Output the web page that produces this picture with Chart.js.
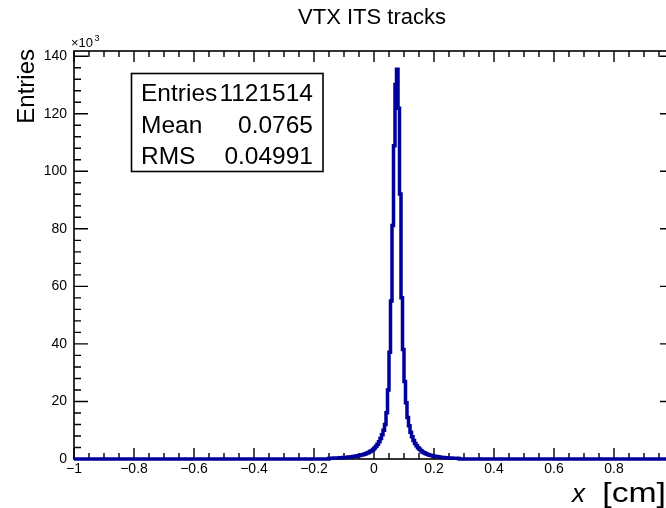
<!DOCTYPE html>
<html>
<head>
<meta charset="utf-8">
<title>VTX ITS tracks</title>
<script src="https://cdn.jsdelivr.net/npm/chart.js@4.4.1/dist/chart.umd.min.js"></script>
<style>
  html, body { margin: 0; padding: 0; background: #fff; overflow: hidden; }
  canvas { display: block; }
</style>
</head>
<body>
<canvas id="hist" width="680" height="508"></canvas>
<script>
// x of reconstructed ITS vertex tracks, 400 bins on [-1, 1]
// only the filled bins are listed, everything else is empty
const xMin = -1;
const xMax = 1;
const binWidth = 0.005;
const firstBinLow = -0.15;
const binCounts = [
  247, 268, 291, 309, 334, 352, 381, 409, 442, 478,
  519, 563, 608, 661, 724, 788, 862, 941, 1032, 1127,
  1243, 1362, 1498, 1652, 1847, 2054, 2301, 2597, 2903, 3296,
  3804, 4392, 5107, 6012, 7093, 8415, 10026, 11984, 16037, 23962,
  37104, 54871, 81123, 108846, 130117, 135472, 121906, 92134, 56018, 38077,
  26931, 19544, 14462, 11528, 9287, 7714, 6393, 5411, 4587, 3912,
  3347, 2852, 2446, 2153, 1897, 1682, 1503, 1327, 1184, 1049,
  942, 838, 751, 668, 603, 537, 492, 441, 398, 372,
  338, 312, 289, 268, 251, 229, 212
];

const xLabelTicks = [-1, -0.8, -0.6, -0.4, -0.2, 0, 0.2, 0.4, 0.6, 0.8, 1];
const xMinorStep = 0.05;
const yLabelTicks = [0, 20000, 40000, 60000, 80000, 100000, 120000, 140000];
const yMinorStep = 4000;
const yMax = 141800;

const statNames = ['Entries', 'Mean', 'RMS'];
const statValues = ['1121514', '0.0765', '0.04991'];

const FONT = '"Liberation Sans", Arial, Helvetica, sans-serif';
const lineBlue = '#00009c';

// step outline of the histogram, drawn along zero outside the filled range
const stepPoints = [{ x: xMin, y: 0 }, { x: firstBinLow, y: 0 }];
binCounts.forEach((c, i) => {
  const lo = firstBinLow + i * binWidth;
  stepPoints.push({ x: lo, y: c }, { x: lo + binWidth, y: c });
});
stepPoints.push({ x: firstBinLow + binCounts.length * binWidth, y: 0 }, { x: xMax, y: 0 });

const minus = s => s.replace('-', '\u2212');

// frame with ROOT style inward ticks on all four sides
const framePlugin = {
  id: 'frame',
  beforeDatasetsDraw(chart) {
    const { ctx, chartArea: a, scales: { x, y } } = chart;
    ctx.save();
    ctx.strokeStyle = '#000';
    ctx.lineWidth = 1.6;
    ctx.strokeRect(a.left, a.top, a.right - a.left, a.bottom - a.top);
    ctx.lineWidth = 1.4;
    ctx.beginPath();
    const nx = Math.round((xMax - xMin) / xMinorStep);
    for (let i = 0; i <= nx; i++) {
      const px = x.getPixelForValue(xMin + i * xMinorStep);
      const len = i % 4 === 0 ? 11 : 6;
      ctx.moveTo(px, a.bottom); ctx.lineTo(px, a.bottom - len);
      ctx.moveTo(px, a.top); ctx.lineTo(px, a.top + len);
    }
    for (let v = 0; v <= yMax; v += yMinorStep) {
      const py = y.getPixelForValue(v);
      const len = v % 20000 === 0 ? 14 : 7;
      ctx.moveTo(a.left, py); ctx.lineTo(a.left + len, py);
      ctx.moveTo(a.right, py); ctx.lineTo(a.right - len, py);
    }
    ctx.stroke();
    ctx.restore();
  },
  afterDraw(chart) {
    const { ctx } = chart;
    ctx.save();
    ctx.fillStyle = '#000';

    // title
    ctx.font = `22px ${FONT}`;
    ctx.textAlign = 'center';
    ctx.textBaseline = 'alphabetic';
    ctx.fillText('VTX ITS tracks', 372, 24);

    // y axis title, aligned to the top of the axis
    ctx.save();
    ctx.translate(34, 49);
    ctx.rotate(-Math.PI / 2);
    ctx.font = `24px ${FONT}`;
    ctx.textAlign = 'right';
    ctx.fillText('Entries', 0, 0);
    ctx.restore();

    // axis multiplier
    ctx.textAlign = 'left';
    ctx.font = `13px ${FONT}`;
    ctx.fillText('\u00d710', 71, 47);
    ctx.font = `9px ${FONT}`;
    ctx.fillText('3', 94.5, 41);

    // x axis title: italic x, then the unit, which comes out wide
    ctx.textAlign = 'right';
    ctx.save();
    ctx.translate(666, 502);
    ctx.scale(1.25, 1);
    ctx.font = `27px ${FONT}`;
    ctx.fillText('[cm]', 0, 0);
    ctx.restore();
    ctx.font = `italic 26px ${FONT}`;
    ctx.fillText('x', 585, 502);

    // statistics box
    const bx = 131.5, by = 73.5, bw = 191.5, bh = 98;
    ctx.fillStyle = '#fff';
    ctx.fillRect(bx, by, bw, bh);
    ctx.strokeStyle = '#000';
    ctx.lineWidth = 1.6;
    ctx.strokeRect(bx, by, bw, bh);
    ctx.fillStyle = '#000';
    ctx.font = `24.5px ${FONT}`;
    const rows = [100.5, 133, 164];
    statNames.forEach((name, i) => {
      ctx.textAlign = 'left';
      ctx.fillText(name, 141, rows[i]);
      ctx.textAlign = 'right';
      ctx.fillText(statValues[i], 313, rows[i]);
    });
    ctx.restore();
  }
};

new Chart(document.getElementById('hist'), {
  type: 'scatter',
  data: {
    datasets: [{
      data: stepPoints,
      showLine: true,
      borderColor: lineBlue,
      borderWidth: 3.5,
      borderJoinStyle: 'miter',
      pointRadius: 0,
      tension: 0,
      clip: 4
    }]
  },
  options: {
    responsive: false,
    animation: false,
    layout: { padding: { top: 51, right: 6, left: 0, bottom: 0 } },
    plugins: { legend: { display: false }, tooltip: { enabled: false } },
    scales: {
      x: {
        type: 'linear',
        min: xMin,
        max: xMax,
        afterFit: s => { s.height = 49; },
        afterBuildTicks: s => { s.ticks = xLabelTicks.map(v => ({ value: v })); },
        grid: { display: false, drawTicks: false },
        border: { display: false },
        ticks: {
          autoSkip: false,
          maxRotation: 0,
          padding: 2,
          color: '#000',
          font: { family: FONT, size: 14 },
          callback: v => minus(v === 0 ? '0' : (Number.isInteger(v) ? String(v) : v.toFixed(1)))
        }
      },
      y: {
        type: 'linear',
        min: 0,
        max: yMax,
        afterFit: s => { s.width = 74; },
        afterBuildTicks: s => { s.ticks = yLabelTicks.map(v => ({ value: v })); },
        grid: { display: false, drawTicks: false },
        border: { display: false },
        ticks: {
          autoSkip: false,
          padding: 7,
          color: '#000',
          font: { family: FONT, size: 14 },
          callback: v => String(v / 1000)
        }
      }
    }
  },
  plugins: [framePlugin]
});
</script>
</body>
</html>
